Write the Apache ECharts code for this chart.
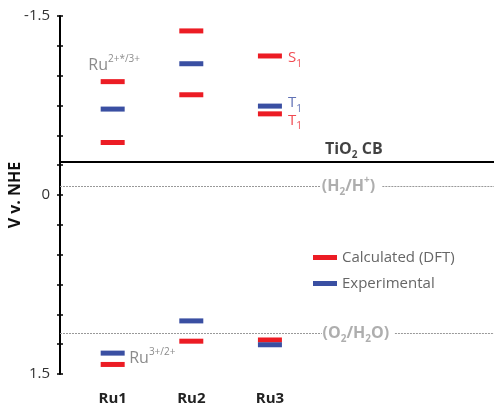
<!DOCTYPE html>
<html>
<head>
<meta charset="utf-8">
<script src="https://cdn.jsdelivr.net/npm/echarts@6/dist/echarts.min.js"></script>
<style>
html,body{margin:0;padding:0;background:#fff;}
#c{width:494px;height:405px;}
</style>
</head>
<body>
<div id="c"></div>
<script>
// ---- data ----
const categories = ['Ru1', 'Ru2', 'Ru3'];
const calculatedPts = [
  ['Ru1', -0.95], ['Ru1', -0.44], ['Ru1', 1.42],
  ['Ru2', -1.375], ['Ru2', -0.84], ['Ru2', 1.225],
  ['Ru3', -1.165], ['Ru3', -0.68], ['Ru3', 1.215]
];
const experimentalPts = [
  ['Ru1', -0.72], ['Ru1', 1.325],
  ['Ru2', -1.10], ['Ru2', 1.055],
  ['Ru3', -0.745], ['Ru3', 1.255]
];
const tio2CB = -0.28;
const h2Level = -0.075;
const o2Level = 1.16;
const yTickLabels = [-1.5, 0, 1.5];

// ---- setup ----
const RED = '#ec1c24', BLUE = '#3a4fa2', GREY = '#6e6e6e', LGREY = '#9a9a9a';
const FONT = '"Open Sans", sans-serif';
const xMin = 0.33, xMax = 5.85;
const idx = n => categories.indexOf(n) + 1;
const toXY = p => [idx(p[0]), p[1]];

function annot(x, y, text, color, size, bold, rich) {
  return {
    value: [x, y],
    label: {
      show: true, position: 'right', distance: 0, formatter: text,
      color: color, fontSize: size, fontWeight: bold ? 'bold' : 'normal', fontFamily: FONT,
      rich: rich
    }
  };
}
const subS = (c, b) => ({fontSize: 10, fontWeight: b ? 'bold' : 'normal', verticalAlign: 'bottom', lineHeight: 22, color: c, fontFamily: FONT});
const supS = (c, b) => ({fontSize: 10, fontWeight: b ? 'bold' : 'normal', verticalAlign: 'top', lineHeight: 22, color: c, fontFamily: FONT});

const chart = echarts.init(document.getElementById('c'), null, {renderer: 'canvas'});
chart.setOption({
  animation: false,
  backgroundColor: '#fff',
  textStyle: {fontFamily: FONT},
  grid: {left: 60, right: 0, top: 16, bottom: 31, containLabel: false, outerBoundsMode: 'none'},
  legend: {
    orient: 'vertical', left: 308, top: 245, itemWidth: 24, itemHeight: 5, itemGap: 11,
    icon: 'rect',
    textStyle: {color: '#666', fontSize: 15, fontFamily: FONT},
    data: ['Calculated (DFT)', 'Experimental']
  },
  xAxis: {
    type: 'value', min: xMin, max: xMax,
    axisLine: {show: false}, axisTick: {show: false}, splitLine: {show: false},
    axisLabel: {
      customValues: categories.map((c, i) => i + 1),
      formatter: v => categories[Math.round(v) - 1] || '',
      color: '#222', fontWeight: 'bold', fontSize: 15, margin: 17, fontFamily: FONT
    }
  },
  yAxis: [{
    type: 'value', inverse: true, min: -1.5, max: 1.5, interval: 0.25,
    name: 'V v. NHE', nameLocation: 'middle', nameGap: 37, nameRotate: 90, nameMoveOverlap: false,
    nameTextStyle: {color: '#111', fontWeight: 'bold', fontSize: 16, fontFamily: FONT},
    axisLine: {show: true, lineStyle: {color: '#000', width: 2}},
    axisTick: {show: true, length: 3, lineStyle: {color: '#000', width: 1.5}},
    splitLine: {show: false},
    axisLabel: {
      color: '#333', fontSize: 15, margin: 10, fontFamily: FONT,
      formatter: v => yTickLabels.some(t => Math.abs(t - v) < 1e-6) ? String(v) : ''
    }
  }, {
    type: 'value', inverse: true, min: -1.5, max: 1.5, interval: 0.25, position: 'left',
    axisLine: {show: false},
    axisTick: {show: true, inside: true, length: 3, lineStyle: {color: '#000', width: 1.5}},
    splitLine: {show: false}, axisLabel: {show: false}
  }],
  series: [
    {
      name: 'Calculated (DFT)', type: 'scatter', symbol: 'rect', symbolSize: [24, 5],
      itemStyle: {color: RED, opacity: 1}, data: calculatedPts.map(toXY), z: 3,
      markLine: {
        silent: true, symbol: 'none',
        data: [
          [{coord: [xMin, tio2CB], lineStyle: {color: '#000', width: 2, type: 'solid'}}, {coord: [xMax, tio2CB]}],
          [{coord: [xMin, h2Level]}, {coord: [3.65, h2Level]}],
          [{coord: [4.43, h2Level]}, {coord: [xMax, h2Level]}],
          [{coord: [xMin, o2Level]}, {coord: [3.66, o2Level]}],
          [{coord: [4.59, o2Level]}, {coord: [xMax, o2Level]}]
        ],
        lineStyle: {color: '#999', width: 1, type: [2, 1]},
        label: {show: false}
      }
    },
    {
      name: 'Experimental', type: 'scatter', symbol: 'rect', symbolSize: [24, 5],
      itemStyle: {color: BLUE, opacity: 1}, data: experimentalPts.map(toXY), z: 4
    },
    {
      name: 'annotations', type: 'scatter', symbolSize: 0, silent: true, z: 5,
      data: [
        annot(0.69, -1.085, 'Ru{sp|2+*/3+}', GREY, 16, false, {sp: supS(GREY)}),
        annot(1.21, 1.37, 'Ru{sp|3+/2+}', GREY, 16, false, {sp: supS(GREY)}),
        annot(3.23, -1.15, 'S{sb|1}', RED, 15, false, {sb: subS(RED)}),
        annot(3.23, -0.77, 'T{sb|1}', BLUE, 15, false, {sb: subS(BLUE)}),
        annot(3.23, -0.625, 'T{sb|1}', RED, 15, false, {sb: subS(RED)}),
        annot(3.70, -0.38, 'TiO{sb|2} CB', '#111', 16, true, {sb: subS('#111', true)}),
        annot(3.66, h2Level, '(H{sb|2}/H{sp|+})', LGREY, 16, true, {sb: subS(LGREY, true), sp: supS(LGREY, true)}),
        annot(3.67, o2Level, '(O{sb|2}/H{sb|2}O)', LGREY, 16, true, {sb: subS(LGREY, true)})
      ]
    }
  ]
});
</script>
</body>
</html>
